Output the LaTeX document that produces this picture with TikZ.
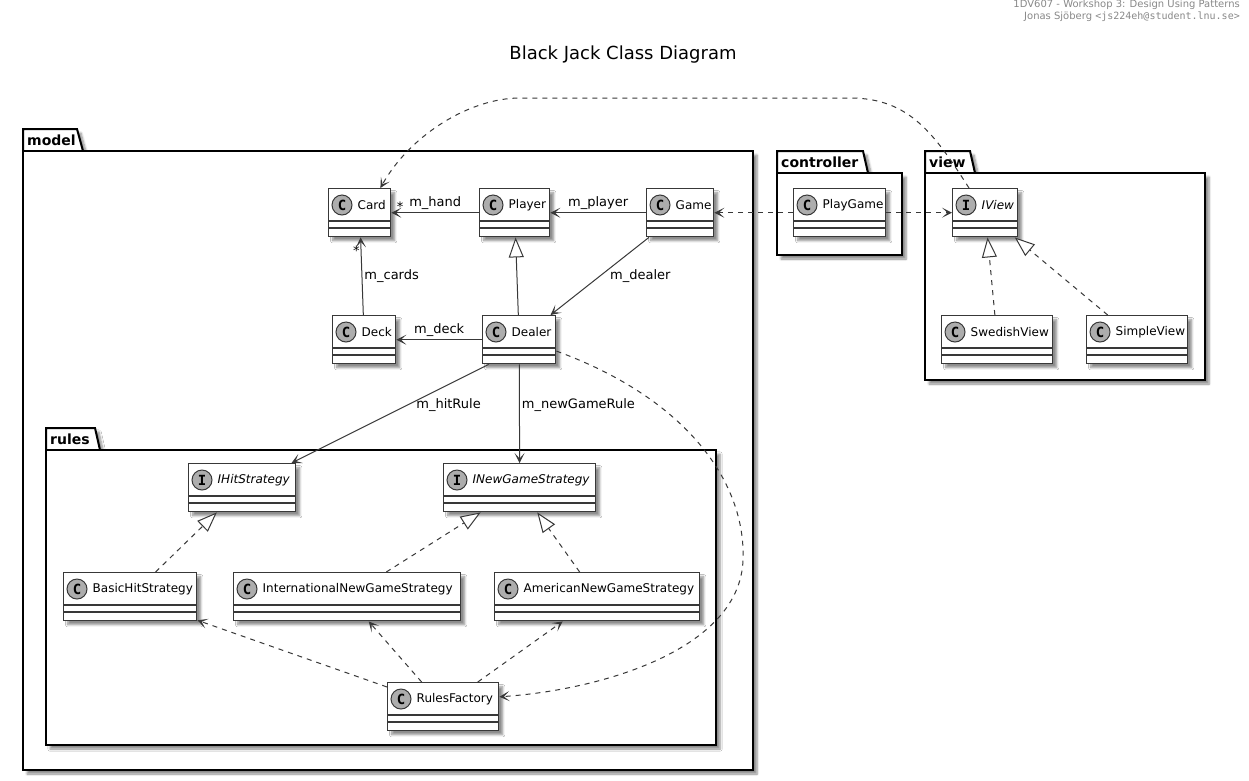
\documentclass[tikz,border=0pt]{standalone}
\usepackage{fontspec}
\setmainfont{DejaVu Sans}
\setmonofont{DejaVu Sans Mono}
\usetikzlibrary{calc}
\usetikzlibrary{arrows.meta}
\usetikzlibrary{shadows.blur}
\definecolor{umlline}{HTML}{383838}
\definecolor{umlspot}{HTML}{ADADAD}
\definecolor{headgray}{HTML}{888888}
\tikzset{
  umlshadow/.style = {blur shadow={shadow xshift=4pt, shadow yshift=-4pt, shadow opacity=45, shadow blur steps=6}},
  classbox/.style = {draw=umlline, line width=1.4pt, fill=white, inner sep=0pt, minimum height=48pt, anchor=north west, umlshadow},
  compart/.style = {draw=umlline, line width=1.2pt},
  spot/.style = {circle, draw=umlline, line width=1pt, fill=umlspot, minimum size=20pt, inner sep=0pt, font=\fontsize{14}{14}\selectfont\ttfamily\bfseries},
  classname/.style = {anchor=west, inner sep=0pt, font=\fontsize{12}{14}\selectfont},
  pkg/.style = {draw=black, line width=2pt, fill=white, umlshadow},
  pkgname/.style = {anchor=west, inner sep=0pt, font=\fontsize{14}{16}\selectfont\bfseries},
  assoc/.style = {draw=umlline, line width=1pt, -{Stealth[length=10pt, width=10pt, inset=5.5pt]}},
  dep/.style = {assoc, dash pattern=on 5pt off 5pt},
  gen/.style = {draw=umlline, line width=1pt, -{Triangle[length=20pt, width=15pt, fill=white]}},
  realize/.style = {gen, dash pattern=on 5pt off 5pt},
  role/.style = {inner sep=0pt, font=\fontsize{13}{15}\selectfont}
}
\newcommand{\umlclass}[6][]{%
  % #1: extra font for the name (e.g. \itshape)
  % #2: node name
  % #3: top left corner
  % #4: width
  % #5: spot letter (C or I)
  % #6: class name
  \node[classbox, minimum width=#4] (#2) at (#3) {};
  % compartments
  \draw[compart] ($(#2.north west)+(0,33)$) -- ($(#2.north east)+(0,33)$);
  \draw[compart] ($(#2.north west)+(0,40)$) -- ($(#2.north east)+(0,40)$);
  % spot and name
  \node[spot] (#2 spot) at ($(#2.north west)+(14,17)$) {#5};
  \node[classname] (#2 name) at ($(#2 spot.east)+(5,0)$) {#1#6};
}

\begin{document}
\begin{tikzpicture}[x=1pt, y=-1pt]

    \useasboundingbox (0,0) rectangle (1249,780);

    % Header and title
    \node[anchor=north east, inner sep=0pt, align=right, text=headgray, font=\fontsize{10}{12}\selectfont] (header) at (1240,0)
      {1DV607 - Workshop 3: Design Using Patterns\\Jonas Sjöberg \texttt{<js224eh@student.lnu.se>}};
    \node[inner sep=0pt, font=\fontsize{18}{20}\selectfont] (title) at (623,55) {Black Jack Class Diagram};

    % Packages
    \draw[pkg] (23,151) -- (23,129) -- (77,129) -- (83,151) -- cycle;
    \draw[pkg] (23,151) rectangle (753,770);
    \node[pkgname] (model) at (27,140) {model};

    \draw[pkg] (46,450) -- (46,428) -- (95,428) -- (100,450) -- cycle;
    \draw[pkg] (46,450) rectangle (716,745);
    \node[pkgname] (rules) at (50,439) {rules};

    \draw[pkg] (777,173) -- (777,151) -- (863,151) -- (868,173) -- cycle;
    \draw[pkg] (777,173) rectangle (902,255);
    \node[pkgname] (controller) at (781,162) {controller};

    \draw[pkg] (925,173) -- (925,151) -- (970,151) -- (975,173) -- cycle;
    \draw[pkg] (925,173) rectangle (1205,380);
    \node[pkgname] (view) at (929,162) {view};

    % Classes
    \umlclass{card}{328,188}{62pt}{C}{Card}
    \umlclass{player}{479,188}{70pt}{C}{Player}
    \umlclass{game}{646,188}{67pt}{C}{Game}
    \umlclass{deck}{332,315}{63pt}{C}{Deck}
    \umlclass{dealer}{482,315}{73pt}{C}{Dealer}

    \umlclass[\itshape]{ihit}{188,463}{107pt}{I}{IHitStrategy}
    \umlclass[\itshape]{inew}{443,463}{152pt}{I}{INewGameStrategy}
    \umlclass{basic}{63,572}{133pt}{C}{BasicHitStrategy}
    \umlclass{intl}{233,572}{227pt}{C}{InternationalNewGameStrategy}
    \umlclass{american}{494,572}{205pt}{C}{AmericanNewGameStrategy}
    \umlclass{factory}{387,682}{111pt}{C}{RulesFactory}

    \umlclass{playgame}{793,188}{92pt}{C}{PlayGame}

    \umlclass[\itshape]{iview}{952,188}{65pt}{I}{IView}
    \umlclass{swedish}{941,315}{111pt}{C}{SwedishView}
    \umlclass{simple}{1086,315}{101pt}{C}{SimpleView}

    % Associations
    \draw[assoc] (player) -- node[role, above=3pt] {m\_hand} node[role, pos=0.9, above=1pt] {*} (card);
    \draw[assoc] (game) -- node[role, above=3pt] {m\_player} (player);
    \draw[assoc] (game) -- node[role, midway, right=10pt] {m\_dealer} (dealer);
    \draw[assoc] (deck) -- node[role, midway, right=2pt] {m\_cards} node[role, pos=0.83, left=1pt] {*} (card);
    \draw[assoc] (dealer) -- node[role, above=3pt] {m\_deck} (deck);
    \draw[assoc] (dealer.-141) -- node[role, pos=0.41, right=8pt] {m\_hitRule} (ihit);
    \draw[assoc] (dealer) -- node[role, pos=0.41, right=2pt] {m\_newGameRule} (inew);

    % Generalizations and realizations
    \draw[gen] (dealer) -- (player);
    \draw[realize] (basic) -- (ihit);
    \draw[realize] (intl) -- (inew);
    \draw[realize] (american) -- (inew);
    \draw[realize] (swedish) -- (iview);
    \draw[realize] (simple) -- (iview);

    % Dependencies
    \draw[dep] (factory) -- (basic);
    \draw[dep] (factory) -- (intl);
    \draw[dep] (factory) -- (american);
    \draw[dep] (playgame) -- (game);
    \draw[dep] (playgame) -- (iview);
    \draw[dep] (dealer.-17) .. controls (690,400) and (746,485) .. (743,560)
      .. controls (740,650) and (600,690) .. (factory.10);
    \draw[dep] ($(iview.north west)+(17,0)$) .. controls (935,135) and (910,98) .. (850,98)
      -- (520,98) .. controls (470,98) and (410,135) .. ($(card.north east)+(-11,0)$);

\end{tikzpicture}
\end{document}
